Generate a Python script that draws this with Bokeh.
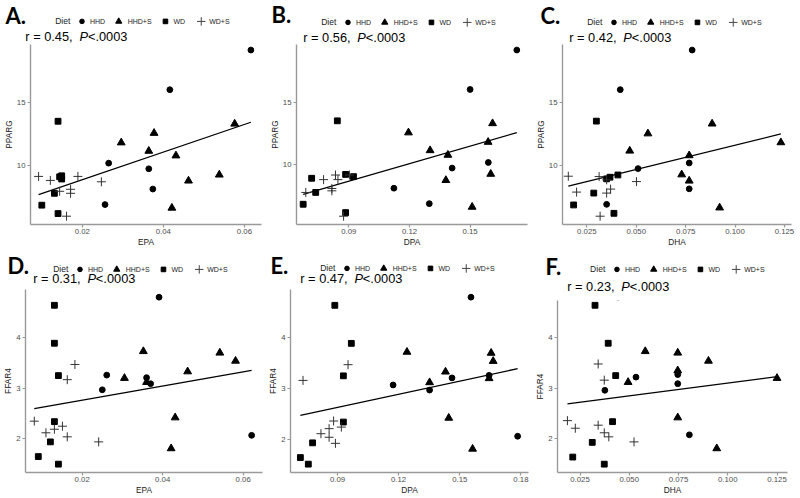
import numpy as np
from bokeh.plotting import figure
from bokeh.layouts import row, column
from bokeh.models import FixedTicker, PrintfTickFormatter, Range1d
from bokeh.core.properties import value
from bokeh.embed import file_html
from bokeh.resources import INLINE

# ---------------- data ----------------
GROUPS = ["HHD", "HHD+S", "WD", "WD+S"]

# A: EPA vs PPARG
A_HHD_x = [0.0616, 0.0416, 0.0265, 0.0364, 0.0374, 0.0256]
A_HHD_y = [19.23, 16.06, 10.19, 9.74, 8.12, 6.88]
A_HHDS_x = [0.0576, 0.0377, 0.0296, 0.0364, 0.0431, 0.0538, 0.0462, 0.0421]
A_HHDS_y = [13.33, 12.59, 11.83, 11.16, 10.79, 9.26, 8.78, 6.61]
A_WD_x = [0.0140, 0.0144, 0.0149, 0.0149, 0.0131, 0.0100, 0.0140]
A_WD_y = [13.54, 9.10, 9.18, 8.92, 7.78, 6.83, 6.16]
A_WDS_x = [0.0092, 0.0121, 0.0189, 0.0247, 0.0144, 0.0171, 0.0171, 0.0161]
A_WDS_y = [9.13, 8.81, 9.13, 8.70, 7.94, 8.10, 7.78, 5.95]

# B: DPA vs PPARG
B_HHD_x = [0.1731, 0.1500, 0.1590, 0.1411, 0.1123, 0.1298]
B_HHD_y = [19.23, 16.06, 10.19, 9.74, 8.12, 6.88]
B_HHDS_x = [0.1611, 0.1195, 0.1589, 0.1302, 0.1390, 0.1602, 0.1380, 0.1510]
B_HHDS_y = [13.33, 12.59, 11.83, 11.16, 10.79, 9.26, 8.76, 6.61]
B_WD_x = [0.0843, 0.0716, 0.0884, 0.0923, 0.0736, 0.0674, 0.0884]
B_WD_y = [13.54, 8.92, 9.23, 9.05, 7.78, 6.83, 6.16]
B_WDS_x = [0.0687, 0.0775, 0.0834, 0.0846, 0.0816, 0.0816, 0.0903, 0.0874]
B_WDS_y = [7.78, 8.81, 9.18, 8.81, 8.10, 7.91, 9.18, 5.87]

# C: DHA vs PPARG
C_HHD_x = [0.0783, 0.0419, 0.0768, 0.0509, 0.0768, 0.0350]
C_HHD_y = [19.23, 16.06, 10.19, 9.74, 8.12, 6.88]
C_HHDS_x = [0.0884, 0.0559, 0.1232, 0.0467, 0.0768, 0.0730, 0.0768, 0.0922]
C_HHDS_y = [13.33, 12.54, 11.83, 11.16, 10.79, 9.26, 8.76, 6.61]
C_WD_x = [0.0298, 0.0285, 0.0183, 0.0387, 0.0350, 0.0367, 0.0407]
C_WD_y = [13.54, 7.78, 6.83, 6.16, 8.92, 9.05, 9.23]
C_WDS_x = [0.0156, 0.0198, 0.0312, 0.0350, 0.0350, 0.0370, 0.0501, 0.0317]
C_WDS_y = [9.13, 7.86, 9.10, 8.84, 7.78, 8.10, 8.70, 5.93]

# D: EPA vs FFAR4
D_HHD_x = [0.0391, 0.0261, 0.0250, 0.0360, 0.0370, 0.0621]
D_HHD_y = [4.80, 3.26, 2.97, 3.21, 3.09, 2.07]
D_HHDS_x = [0.0305, 0.0352, 0.0360, 0.0431, 0.0421, 0.0462, 0.0542, 0.0581]
D_HHDS_y = [3.20, 3.73, 3.12, 2.42, 1.81, 3.33, 3.70, 3.54]
D_WD_x = [0.0131, 0.0131, 0.0141, 0.0131, 0.0121, 0.0091, 0.0141]
D_WD_y = [4.64, 3.89, 3.25, 2.34, 1.94, 1.65, 1.50]
D_WDS_x = [0.0182, 0.0163, 0.0081, 0.0110, 0.0131, 0.0151, 0.0163, 0.0241]
D_WDS_y = [3.47, 3.17, 2.35, 2.12, 2.19, 2.25, 2.04, 1.94]

# E: DPA vs FFAR4
E_HHD_x = [0.1555, 0.1173, 0.1352, 0.1462, 0.1644, 0.1784]
E_HHD_y = [4.80, 3.07, 2.97, 3.21, 3.26, 2.06]
E_HHDS_x = [0.1241, 0.1352, 0.1430, 0.1446, 0.1563, 0.1654, 0.1664, 0.1644]
E_HHDS_y = [3.72, 3.12, 3.33, 2.42, 1.81, 3.70, 3.54, 3.20]
E_WD_x = [0.0887, 0.0968, 0.0929, 0.0929, 0.0778, 0.0718, 0.0757]
E_WD_y = [4.64, 3.89, 3.25, 2.34, 1.93, 1.64, 1.51]
E_WDS_x = [0.0731, 0.0952, 0.0881, 0.0819, 0.0859, 0.0859, 0.0919, 0.0890]
E_WDS_y = [3.16, 3.47, 2.36, 2.11, 2.21, 2.04, 2.24, 1.92]

# F: DHA vs FFAR4
F_HHD_x = [0.0443, 0.0376, 0.0534, 0.0746, 0.0746, 0.0805]
F_HHD_y = [4.80, 2.96, 3.22, 3.27, 3.09, 2.08]
F_HHDS_x = [0.0581, 0.0746, 0.0902, 0.1250, 0.0494, 0.0746, 0.0746, 0.0944]
F_HHDS_y = [3.73, 3.70, 3.54, 3.20, 3.12, 3.35, 2.42, 1.81]
F_WD_x = [0.0326, 0.0393, 0.0431, 0.0415, 0.0312, 0.0213, 0.0373]
F_WD_y = [4.64, 3.89, 3.25, 2.34, 1.93, 1.64, 1.50]
F_WDS_x = [0.0342, 0.0373, 0.0186, 0.0226, 0.0342, 0.0373, 0.0396, 0.0524]
F_WDS_y = [3.48, 3.16, 2.36, 2.21, 2.27, 2.12, 2.04, 1.94]

R_VALUES = ["0.45", "0.56", "0.42", "0.31", "0.47", "0.23"]
P_TEXT = "<.0003"

EPA_TICKS = [0.02, 0.04, 0.06]
DPA_TICKS = [0.09, 0.12, 0.15, 0.18]
DHA_TICKS = [0.025, 0.050, 0.075, 0.100, 0.125]
PPARG_TICKS = [10, 15]
FFAR4_TICKS = [2, 3, 4]

# ---------------- layout / style ----------------
W, H = 265, 248
SX, SY = W / 266.67, H / 249.0
FONT = "Liberation Sans"

MARKERS = [dict(marker="circle", size=5.8),
           dict(marker="triangle", size=7.8),
           dict(marker="square", size=5.8),
           dict(marker="cross", size=9)]
LEG_MARKERS = [dict(marker="circle", size=4.6),
               dict(marker="triangle", size=6.2),
               dict(marker="square", size=4.6),
               dict(marker="cross", size=8.5)]

# frame = (left, top, right, bottom) of the full panel scale, hdr = height of the header strip
PANELS = [
    dict(letter="A.", xs=[A_HHD_x, A_HHDS_x, A_WD_x, A_WDS_x], ys=[A_HHD_y, A_HHDS_y, A_WD_y, A_WDS_y],
         xl="EPA", yl="PPARG", xt=EPA_TICKS, yt=PPARG_TICKS, xf="%.2f", minl=29,
         frame=(27, 41, 262, 224.5), hdr=44, let_pos=(5, 15), leg=(55, 21), rpos=(25, 36.5)),
    dict(letter="B.", xs=[B_HHD_x, B_HHDS_x, B_WD_x, B_WDS_x], ys=[B_HHD_y, B_HHDS_y, B_WD_y, B_WDS_y],
         xl="DPA", yl="PPARG", xt=DPA_TICKS, yt=PPARG_TICKS, xf="%.2f", minl=29,
         frame=(25, 41, 261.5, 224.5), hdr=44, let_pos=(5, 14), leg=(55, 22), rpos=(37, 37)),
    dict(letter="C.", xs=[C_HHD_x, C_HHDS_x, C_WD_x, C_WDS_x], ys=[C_HHD_y, C_HHDS_y, C_WD_y, C_WDS_y],
         xl="DHA", yl="PPARG", xt=DHA_TICKS, yt=PPARG_TICKS, xf="%.3f", minl=29,
         frame=(24, 41, 259.3, 224.5), hdr=44, let_pos=(8, 15), leg=(55, 22), rpos=(37, 37)),
    dict(letter="D.", xs=[D_HHD_x, D_HHDS_x, D_WD_x, D_WDS_x], ys=[D_HHD_y, D_HHDS_y, D_WD_y, D_WDS_y],
         xl="EPA", yl="FFAR4", xt=EPA_TICKS, yt=FFAR4_TICKS, xf="%.2f", minl=25,
         frame=(22.7, 40, 263.3, 224.4), hdr=40, let_pos=(7, 16), leg=(53, 20), rpos=(33, 29)),
    dict(letter="E.", xs=[E_HHD_x, E_HHDS_x, E_WD_x, E_WDS_x], ys=[E_HHD_y, E_HHDS_y, E_WD_y, E_WDS_y],
         xl="DPA", yl="FFAR4", xt=DPA_TICKS, yt=FFAR4_TICKS, xf="%.2f", minl=25,
         frame=(24.3, 40, 264.8, 224.4), hdr=40, let_pos=(5, 16), leg=(55, 19), rpos=(35, 29)),
    dict(letter="F.", xs=[F_HHD_x, F_HHDS_x, F_WD_x, F_WDS_x], ys=[F_HHD_y, F_HHDS_y, F_WD_y, F_WDS_y],
         xl="DHA", yl="FFAR4", xt=DHA_TICKS, yt=FFAR4_TICKS, xf="%.3f", minl=25,
         frame=(26.7, 40, 258.7, 224.4), hdr=51, let_pos=(15, 17), leg=(60, 20), rpos=(37, 37)),
]


def bare_figure(w, h, xr, yr):
    f = figure(width=w, height=h, x_range=xr, y_range=yr, x_axis_type=None, y_axis_type=None,
               min_border=0, output_backend="svg", toolbar_location=None, tools="")
    f.outline_line_color = None
    f.background_fill_color = "white"
    f.border_fill_color = "white"
    return f


def make_header(cfg, r_value, hh):
    # header strip: panel letter, "Diet" legend and correlation text (pixel coordinates)
    h = bare_figure(W, hh, Range1d(0, W), Range1d(hh, 0))

    def txt(X, Y, s, size, **kw):
        opts = dict(text_font=value(FONT), text_font_size=value(f"{size:.1f}px"), text_color="black",
                    text_align="left", text_baseline="middle")
        opts.update(kw)
        h.text(x=[X * SX], y=[Y * SY], text=[s], **opts)

    lx, ly = cfg["let_pos"]
    txt(lx, ly, cfg["letter"], 22, text_font=value("Lato"), text_font_style="bold")

    gx, gy = cfg["leg"]
    txt(gx, gy, "Diet", 8.5, text_color="#222222")
    sym_off = [27, 64, 111, 147]
    txt_off = [35, 73, 119, 155]
    for g, m, so, to in zip(GROUPS, LEG_MARKERS, sym_off, txt_off):
        if m["marker"] == "cross":
            h.scatter([(gx + so) * SX], [gy * SY], marker="cross", size=m["size"],
                      line_color="#444444", line_width=1)
        else:
            h.scatter([(gx + so) * SX], [gy * SY], marker=m["marker"], size=m["size"],
                      fill_color="black", line_color="black")
        txt(gx + to, gy, g, 7, text_color="#222222")

    fs = 12.8
    rx, ry = cfg["rpos"]
    txt(rx, ry, f"r = {r_value},", fs)
    px = rx + (3.697 + 0.556) * fs
    txt(px, ry, "P", fs, text_font_style="italic")
    txt(px + 0.667 * fs, ry, P_TEXT, fs)
    return h


def make_plot(cfg, hh):
    L, T, R, B = cfg["frame"]
    bl = max(round(L * SX), cfg["minl"])
    right = round(R * SX)
    fw = right - bl
    full_h = (B - T) * SY            # height of the full (ggplot-like) panel scale
    fh = round(B * SY) - hh          # visible part below the header strip
    br = W - right
    bb = H - hh - fh

    allx = np.concatenate([np.asarray(v, float) for v in cfg["xs"]])
    ally = np.concatenate([np.asarray(v, float) for v in cfg["ys"]])
    xspan, yspan = allx.max() - allx.min(), ally.max() - ally.min()
    x0, x1 = allx.min() - 0.05 * xspan, allx.max() + 0.05 * xspan
    y0, y1 = ally.min() - 0.05 * yspan, ally.max() + 0.05 * yspan
    # the top of the scale that falls under the header strip is cut away
    y1 = y0 + (y1 - y0) * fh / full_h
    # the left border may be wider than in the reference: keep the x scale of the full frame
    full_w = (R - L) * SX
    x0 = x1 - (x1 - x0) * fw / full_w

    p = figure(frame_width=fw, frame_height=fh, min_border_left=bl, min_border_right=br,
               min_border_top=0, min_border_bottom=bb, x_range=Range1d(x0, x1),
               y_range=Range1d(y0, y1), output_backend="svg", toolbar_location=None, tools="")
    p.outline_line_color = None
    p.background_fill_color = "white"
    p.border_fill_color = "white"
    p.xgrid.visible = False
    p.ygrid.visible = False

    for ax, ticks, lbl in ((p.xaxis[0], cfg["xt"], cfg["xl"]), (p.yaxis[0], cfg["yt"], cfg["yl"])):
        ax.ticker = FixedTicker(ticks=ticks)
        ax.axis_line_color = "#9a9a9a"
        ax.axis_line_width = 1.4
        ax.major_tick_line_color = "#9a9a9a"
        ax.major_tick_line_width = 1.2
        ax.major_tick_out = 3
        ax.major_tick_in = 0
        ax.minor_tick_line_color = None
        ax.major_label_text_font = FONT
        ax.major_label_text_font_size = "7.8px"
        ax.major_label_text_color = "#4d4d4d"
        ax.axis_label = lbl
        ax.axis_label_text_font = FONT
        ax.axis_label_text_font_size = "8.3px"
        ax.axis_label_text_font_style = "normal"
        ax.axis_label_text_color = "#222222"
        ax.axis_label_standoff = 0
    p.xaxis[0].formatter = PrintfTickFormatter(format=cfg["xf"])
    p.yaxis[0].formatter = PrintfTickFormatter(format="%d")
    p.xaxis[0].major_label_standoff = 1
    p.yaxis[0].major_label_standoff = 2

    # least-squares regression line over all points of the panel
    slope, icpt = np.polyfit(allx, ally, 1)
    lx = np.array([allx.min(), allx.max()])
    p.line(lx, icpt + slope * lx, line_color="black", line_width=1.3)

    for xs, ys, m in zip(cfg["xs"], cfg["ys"], MARKERS):
        if m["marker"] == "cross":
            p.scatter(xs, ys, marker="cross", size=m["size"], line_color="#333333", line_width=1)
        else:
            p.scatter(xs, ys, marker=m["marker"], size=m["size"], fill_color="black",
                      line_color="black")
    return p


cells = []
for cfg, r in zip(PANELS, R_VALUES):
    hh = round(cfg["hdr"] * SY)
    # each figure sits in its own row so that Bokeh does not align header and plot frames
    cells.append(column(row(make_header(cfg, r, hh)), row(make_plot(cfg, hh))))

layout = column(row(*cells[:3]), row(*cells[3:]))

with open("out.html", "w") as f:
    f.write(file_html(layout, INLINE))
